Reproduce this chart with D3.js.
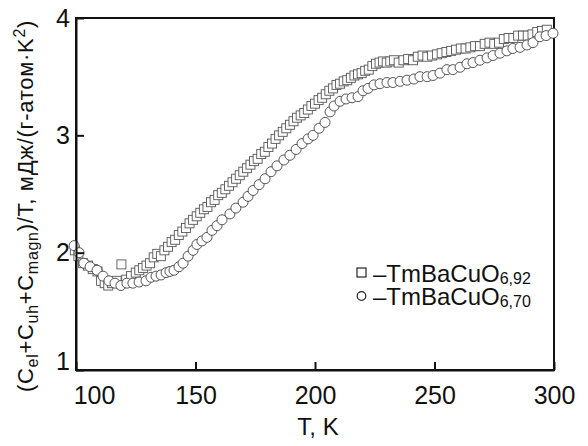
<!DOCTYPE html>
<html><head><meta charset="utf-8">
<script src="https://cdn.jsdelivr.net/npm/d3@7"></script>
<style>
body{margin:0;background:#fff;}
text{font-family:"Liberation Sans",Arial,Helvetica,sans-serif;fill:#111;}
</style></head>
<body><svg id="c" width="588" height="446"></svg>
<script>
// Series: TmBaCuO6,92 (squares)
const sqT = [99.5,101,103,105,107,109,110.5,112,113.5,115,117,119,121,123,125,126.5,128,129.5,131,132.5,134,135.5,137,138.5,140,141.5,143,144.5,146,147.5,149,150.5,152,153.5,155,156.5,158,159.5,161,162.5,164,165.5,167,168.5,170,171.5,173,174.5,176,177.5,179,180.5,182,183.5,185,186.5,188,189.5,191,192.5,194,195.5,197,198.5,200,201.5,203,204.5,206,207.5,209,210.5,212,213.5,215,216.5,218,219.5,221,222.5,224,225.5,227,228.5,230,231.5,233,235,237,239,241,243,245,247,249,251,253,255,257,259,261,263,265,267,269,271,273,275,277,279,281,283,285,287,289,291,293,295,297];
const sqV = [2.02,1.97,1.91,1.89,1.86,1.84,1.76,1.74,1.72,1.74,1.76,1.90,1.77,1.80,1.83,1.85,1.87,1.89,1.91,1.96,1.99,1.97,2.02,2.05,2.09,2.11,2.15,2.18,2.21,2.25,2.28,2.31,2.34,2.37,2.39,2.43,2.45,2.49,2.51,2.54,2.57,2.60,2.63,2.66,2.69,2.72,2.75,2.78,2.80,2.84,2.86,2.90,2.93,2.97,3.00,3.03,3.06,3.09,3.12,3.15,3.17,3.19,3.22,3.25,3.27,3.30,3.32,3.35,3.38,3.40,3.43,3.44,3.46,3.47,3.49,3.51,3.52,3.53,3.55,3.56,3.59,3.61,3.62,3.63,3.62,3.63,3.64,3.62,3.64,3.65,3.64,3.67,3.68,3.67,3.68,3.69,3.70,3.71,3.72,3.73,3.74,3.74,3.75,3.76,3.76,3.78,3.79,3.78,3.79,3.82,3.83,3.83,3.85,3.85,3.85,3.86,3.88,3.89,3.90];
// Series: TmBaCuO6,70 (circles)
const ciT = [99.2,101.3,103.3,105.9,108.8,111.3,113.8,116.3,118.8,121.3,123.8,126.4,129.3,131.4,133.5,135.6,137.7,139.3,141.0,143.1,144.8,146.9,149.0,150.6,152.7,154.8,156.9,159.0,161.1,164.4,166.9,169.9,172.0,174.1,176.6,179.1,181.6,184.1,187.0,189.5,192.1,194.6,197.1,199.2,201.7,204.2,206.3,208.0,210.5,213.0,215.5,218.0,220.1,222.2,224.7,227.2,230.1,232.6,235.6,238.5,241.4,243.9,246.9,249.4,252.3,255.2,257.7,260.7,263.6,266.1,269.0,272.0,274.5,277.4,280.3,282.8,285.8,288.7,291.2,294.1,296.7,299.6];
const ciV = [2.06,2.00,1.91,1.88,1.85,1.80,1.76,1.74,1.72,1.74,1.74,1.75,1.76,1.79,1.80,1.81,1.83,1.84,1.85,1.88,1.91,1.97,2.02,2.07,2.10,2.13,2.19,2.23,2.28,2.33,2.38,2.43,2.48,2.53,2.58,2.63,2.69,2.74,2.79,2.83,2.88,2.93,2.97,3.00,3.06,3.11,3.20,3.25,3.29,3.31,3.32,3.33,3.38,3.40,3.43,3.44,3.45,3.45,3.46,3.47,3.48,3.50,3.50,3.51,3.53,3.56,3.56,3.58,3.61,3.62,3.64,3.66,3.68,3.70,3.72,3.74,3.75,3.77,3.79,3.84,3.85,3.87];
const xTicks = [100,150,200,250,300];
const yTicks = [1,2,3,4];
const legendNames = [["–TmBaCuO","6,92"],["–TmBaCuO","6,70"]];

const svg = d3.select("#c");
const L=76, R=554, T=18, B=370;
const x = d3.scaleLinear().domain([100,300]).range([L,R]);
const y = d3.scaleLinear().domain([1,4]).range([B,T]);

// frame
svg.append("rect").attr("x",L).attr("y",T).attr("width",R-L).attr("height",B-T)
  .attr("fill","none").attr("stroke","#111").attr("stroke-width",2);

// data
svg.append("g").selectAll("rect").data(sqT.map((t,i)=>[t,sqV[i]])).join("rect")
  .attr("x",d=>x(d[0])-4.5).attr("y",d=>y(d[1])-4.5).attr("width",9).attr("height",9)
  .attr("fill","#fff").attr("stroke","#555").attr("stroke-width",0.9);
svg.append("g").selectAll("circle").data(ciT.map((t,i)=>[t,ciV[i]])).join("circle")
  .attr("cx",d=>x(d[0])).attr("cy",d=>y(d[1])).attr("r",5)
  .attr("fill","#fff").attr("stroke","#444").attr("stroke-width",0.9);

// axes
const xa = svg.append("g").attr("transform",`translate(0,${B})`)
  .call(d3.axisBottom(x).tickValues(xTicks).tickFormat(d3.format("d")).tickSizeInner(-8).tickSizeOuter(0).tickPadding(16));
const ya = svg.append("g").attr("transform",`translate(${L},0)`)
  .call(d3.axisLeft(y).tickValues(yTicks).tickFormat(d3.format("d")).tickSizeInner(-8).tickSizeOuter(0).tickPadding(6));
[xa,ya].forEach(a=>{
  a.select(".domain").attr("stroke","#111").attr("stroke-width",2);
  a.selectAll(".tick line").attr("stroke","#111").attr("stroke-width",2);
  a.selectAll(".tick text").attr("font-size",25).attr("font-family","Liberation Sans, Arial, sans-serif").attr("fill","#111");
});
xa.selectAll(".tick text").filter(d=>d===100).attr("dx",18);
ya.selectAll(".tick text").filter(d=>d===1).attr("dy","-0.04em");

// x title
svg.append("text").attr("x",318).attr("y",435).attr("text-anchor","middle").attr("font-size",24).text("T, K");

// y title
const yt = svg.append("text").attr("transform","translate(33,206) rotate(-90)")
  .attr("text-anchor","middle").attr("font-size",22).attr("letter-spacing",0.7);
const parts = [["(C",0],["el",1],["+C",0],["uh",1],["+C",0],["magn",1],[")/T, мДж/(г-атом·K",0],["2",2],[")",0]];
let cur=0;
parts.forEach(([s,m])=>{
  const target = m===1?5:(m===2?-8:0);
  const ts = yt.append("tspan").attr("dy",target-cur).text(s);
  if(m) ts.attr("font-size",16);
  cur=target;
});

// legend
const lg = svg.append("g");
lg.append("rect").attr("x",357).attr("y",268).attr("width",9).attr("height",9)
  .attr("fill","#fff").attr("stroke","#222").attr("stroke-width",1.2);
lg.append("circle").attr("cx",361.5).attr("cy",296).attr("r",4.3)
  .attr("fill","#fff").attr("stroke","#222").attr("stroke-width",1.2);
legendNames.forEach((n,i)=>{
  const t = lg.append("text").attr("x",373).attr("y",282+i*23).attr("font-size",24);
  t.append("tspan").text(n[0]);
  t.append("tspan").attr("dy",2).attr("font-size",16).text(n[1]);
});
</script></body></html>
